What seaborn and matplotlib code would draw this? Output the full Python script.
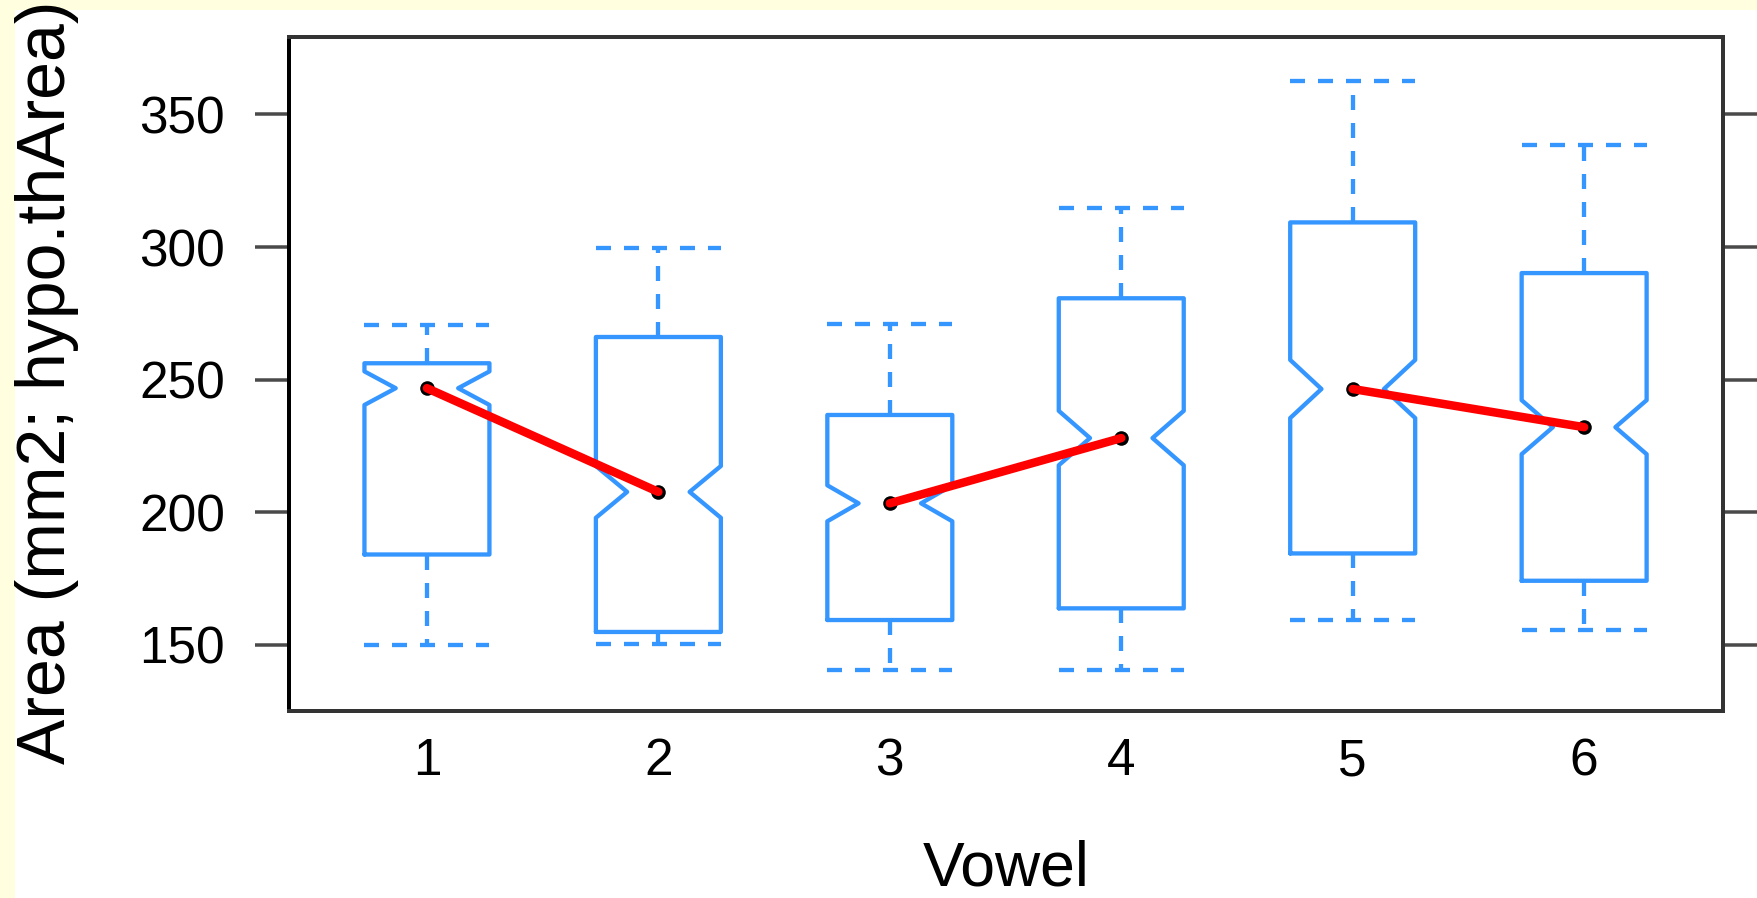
import numpy as np
import pandas as pd
import matplotlib
matplotlib.use("Agg")
import matplotlib.pyplot as plt
from matplotlib.patches import Rectangle
import seaborn as sns

# ---- data (five-number summaries per vowel) ----
vowels = ["1", "2", "3", "4", "5", "6"]
whisker_low = [150.0, 150.5, 140.6, 140.6, 159.5, 155.5]
q1 = [184.1, 154.9, 159.4, 163.8, 184.5, 174.2]
median = [246.8, 207.7, 203.4, 228.0, 246.5, 232.1]
q3 = [256.2, 266.1, 236.7, 280.7, 309.3, 290.2]
whisker_high = [270.7, 299.7, 271.0, 314.6, 362.8, 338.3]
n_per_vowel = 320          # sample size implied by notch widths
pair = ["a", "a", "b", "b", "c", "c"]   # medians joined in pairs
y_ticks = [150, 200, 250, 300, 350]

# rebuild samples whose quartiles/whisker ends equal the summaries above
rows = []
k = n_per_vowel // 5
for v, lo, a, m, b, hi in zip(vowels, whisker_low, q1, median, q3, whisker_high):
    for val in (lo, a, m, b, hi):
        rows += [(v, val)] * k
df = pd.DataFrame(rows, columns=["Vowel", "Area"])
med_df = pd.DataFrame({"Vowel": vowels, "Area": median, "pair": pair})

sns.set_theme(style="white")
plt.rcParams["font.family"] = ["Liberation Sans", "DejaVu Sans"]
plt.rcParams["text.color"] = "black"

W, H = 1758, 898
PX = 72 / 100
fig = plt.figure(figsize=(W / 100, H / 100), dpi=100, facecolor="#FFFFE0")
fig.patches.append(Rectangle((15 / W, 0), 1, 1 - 10 / H, transform=fig.transFigure,
                             facecolor="white", edgecolor="none", zorder=-10))
ax = fig.add_axes([289 / W, 1 - 711 / H, (1723 - 289) / W, (711 - 37) / H])
ax.set_zorder(5)
ax.set_facecolor("white")

blue = "#3596ff"
lw = 4.3 * PX
dash = (0, (15 / 4.3, 13 / 4.3))

sns.boxplot(data=df, x="Vowel", y="Area", order=vowels, ax=ax, fill=False,
            width=0.54, color=blue, linecolor=blue, saturation=1, linewidth=lw,
            notch=True, showfliers=False, capwidths=0.54,
            medianprops=dict(linewidth=0),
            whiskerprops=dict(linestyle=dash),
            capprops=dict(linestyle=dash))

sns.scatterplot(data=med_df, x="Vowel", y="Area", color="black", s=110,
                linewidth=0, ax=ax, zorder=3, legend=False)
sns.lineplot(data=med_df, x="Vowel", y="Area", units="pair", estimator=None,
             sort=False, color="#ff0000", linewidth=8.5 * PX, ax=ax, zorder=4,
             legend=False)

ax.set_xlim(-0.596, 5.6)
ax.set_ylim(125.1, 379.2)
ax.set_yticks(y_ticks)
ax.set_yticklabels([str(t) for t in y_ticks])
ax.tick_params(axis="y", left=True, right=True, direction="out",
               length=34 * PX, width=3.5 * PX, color="#4a4a4a",
               labelsize=37, pad=30 * PX, labelcolor="black")
ax.tick_params(axis="x", bottom=False, length=0, labelsize=37, pad=26 * PX,
               labelcolor="black")
ax.set_xlabel("")
ax.set_ylabel("")
for side, sp in ax.spines.items():
    sp.set_visible(True)
    sp.set_linewidth(4 * PX)
    sp.set_color("#000000" if side == "left" else "#333333")

fig.text(1006 / W, 1 - 886 / H, "Vowel", ha="center", va="baseline",
         fontsize=45, color="black")
fig.text(65 / W, 1 - 382 / H, "Area (mm2; hypo.thArea)", rotation=90,
         rotation_mode="anchor", ha="center", va="baseline", fontsize=49,
         color="black")

fig.savefig("out.png", dpi=100, facecolor=fig.get_facecolor())
